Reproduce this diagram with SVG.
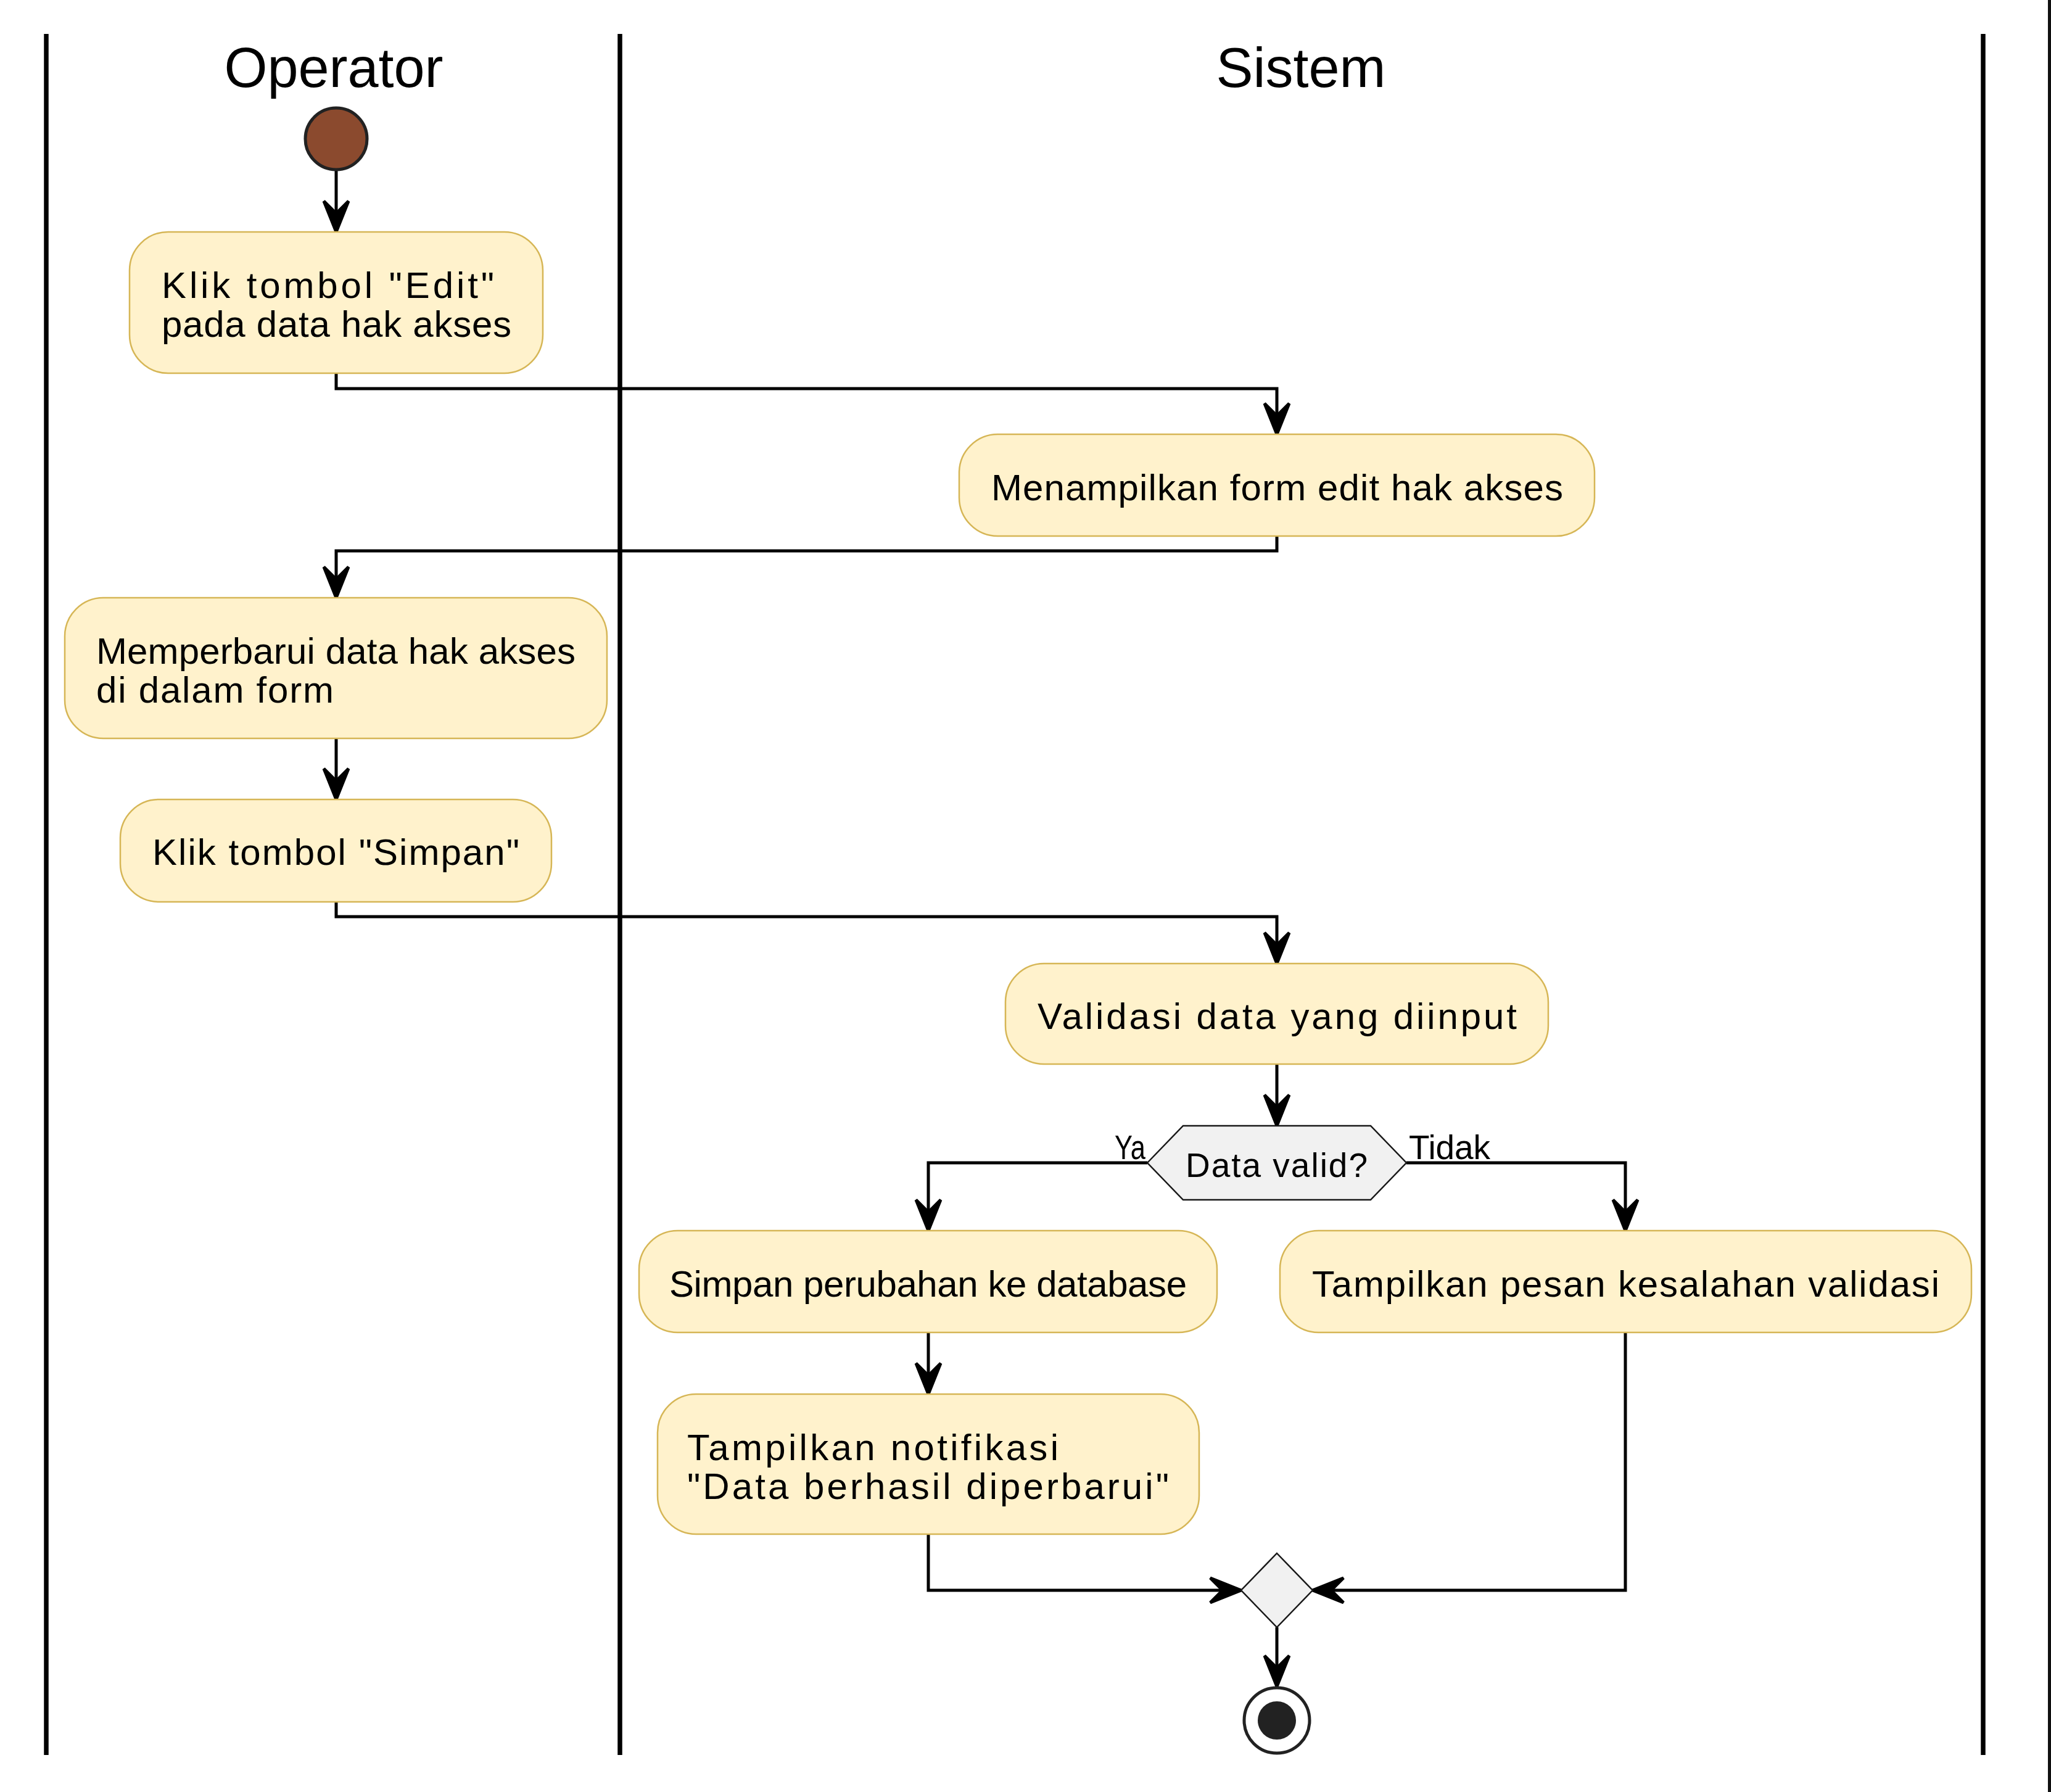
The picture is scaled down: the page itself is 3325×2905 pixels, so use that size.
<svg xmlns="http://www.w3.org/2000/svg" width="3325" height="2905" viewBox="0 0 3325 2905">
  <style>
    .lane { stroke: #000; stroke-width: 7.5; fill: none; }
    .title { font-family: "Liberation Sans", Arial, sans-serif; font-size: 90px; fill: #000; text-anchor: middle; }
    .act { fill: #FFF2CC; stroke: #D6B656; stroke-width: 2.5; }
    .txt { font-family: "Liberation Sans", Arial, sans-serif; font-size: 60px; fill: #000; }
    .small { font-family: "Liberation Sans", Arial, sans-serif; font-size: 55px; fill: #000; }
    .gate { fill: #F1F1F1; stroke: #181818; stroke-width: 2.5; }
    .edge { fill: none; stroke: #000; stroke-width: 5; }
  </style>
  <defs>
    <marker id="ah" markerUnits="userSpaceOnUse" viewBox="-60 -30 70 60" markerWidth="70" markerHeight="60" refX="0" refY="0" orient="auto" overflow="visible">
      <path d="M0,0 L-50,-20 L-30,0 L-50,20 Z" fill="#000" stroke="#000" stroke-width="5" stroke-linejoin="miter"/>
    </marker>
  </defs>

  <rect x="0" y="0" width="3325" height="2905" fill="#FFFFFF"/>
  <rect x="3320" y="0" width="5" height="2905" fill="#111111"/>

  <!-- swimlanes -->
  <g id="lanes">
    <line class="lane" x1="75" y1="55" x2="75" y2="2845"/>
    <line class="lane" x1="1005" y1="55" x2="1005" y2="2845"/>
    <line class="lane" x1="3215" y1="55" x2="3215" y2="2845"/>
    <text class="title" x="541" y="141">Operator</text>
    <text class="title" x="2109" y="141">Sistem</text>
  </g>

  <!-- flow connectors -->
  <g id="connectors">
    <path class="edge" d="M545,276 L545,376" marker-end="url(#ah)"/>
    <path class="edge" d="M545,605 L545,630 L2070,630 L2070,704" marker-end="url(#ah)"/>
    <path class="edge" d="M2070,869 L2070,893 L545,893 L545,969" marker-end="url(#ah)"/>
    <path class="edge" d="M545,1197 L545,1296" marker-end="url(#ah)"/>
    <path class="edge" d="M545,1462 L545,1486 L2070,1486 L2070,1562" marker-end="url(#ah)"/>
    <path class="edge" d="M2070,1725 L2070,1825" marker-end="url(#ah)"/>
    <path class="edge" d="M1860,1885 L1505,1885 L1505,1995" marker-end="url(#ah)"/>
    <path class="edge" d="M2280,1885 L2635,1885 L2635,1995" marker-end="url(#ah)"/>
    <path class="edge" d="M1505,2160 L1505,2260" marker-end="url(#ah)"/>
    <path class="edge" d="M1505,2487 L1505,2578 L2012,2578" marker-end="url(#ah)"/>
    <path class="edge" d="M2635,2160 L2635,2578 L2128,2578" marker-end="url(#ah)"/>
    <path class="edge" d="M2070,2638 L2070,2734" marker-end="url(#ah)"/>
    <text class="small" x="1807" y="1879" textLength="50" lengthAdjust="spacingAndGlyphs">Ya</text>
    <text class="small" x="2284" y="1879" textLength="132" lengthAdjust="spacing">Tidak</text>
  </g>

  <!-- start -->
  <g id="start">
    <circle cx="545" cy="225" r="50" fill="#8B4A2E" stroke="#222" stroke-width="5"/>
  </g>

  <g id="act-klik-edit">
    <rect class="act" x="210" y="376" width="670" height="229" rx="62.5" ry="62.5"/>
    <text class="txt" x="262" y="483" textLength="539" lengthAdjust="spacing">Klik tombol "Edit"</text>
    <text class="txt" x="262" y="546" textLength="567" lengthAdjust="spacing">pada data hak akses</text>
  </g>

  <g id="act-tampil-form">
    <rect class="act" x="1555" y="704" width="1030" height="165" rx="62.5" ry="62.5"/>
    <text class="txt" x="1607" y="811" textLength="927" lengthAdjust="spacing">Menampilkan form edit hak akses</text>
  </g>

  <g id="act-perbarui">
    <rect class="act" x="105" y="969" width="879" height="228" rx="62.5" ry="62.5"/>
    <text class="txt" x="156" y="1076" textLength="777" lengthAdjust="spacing">Memperbarui data hak akses</text>
    <text class="txt" x="156" y="1139" textLength="385" lengthAdjust="spacing">di dalam form</text>
  </g>

  <g id="act-klik-simpan">
    <rect class="act" x="195" y="1296" width="699" height="166" rx="62.5" ry="62.5"/>
    <text class="txt" x="247" y="1402" textLength="595" lengthAdjust="spacing">Klik tombol "Simpan"</text>
  </g>

  <g id="act-validasi">
    <rect class="act" x="1630" y="1562" width="880" height="163" rx="62.5" ry="62.5"/>
    <text class="txt" x="1682" y="1668" textLength="777" lengthAdjust="spacing">Validasi data yang diinput</text>
  </g>

  <g id="decision-valid">
    <polygon class="gate" points="1860,1885 1918,1825 2222,1825 2280,1885 2222,1945 1918,1945"/>
    <text class="small" x="1922" y="1908" textLength="295" lengthAdjust="spacing">Data valid?</text>
  </g>

  <g id="act-simpan-db">
    <rect class="act" x="1036" y="1995" width="937" height="165" rx="62.5" ry="62.5"/>
    <text class="txt" x="1085" y="2102" textLength="839" lengthAdjust="spacing">Simpan perubahan ke database</text>
  </g>

  <g id="act-pesan-salah">
    <rect class="act" x="2075" y="1995" width="1121" height="165" rx="62.5" ry="62.5"/>
    <text class="txt" x="2127" y="2102" textLength="1017" lengthAdjust="spacing">Tampilkan pesan kesalahan validasi</text>
  </g>

  <g id="act-notifikasi">
    <rect class="act" x="1066" y="2260" width="878" height="227" rx="62.5" ry="62.5"/>
    <text class="txt" x="1114" y="2367" textLength="602" lengthAdjust="spacing">Tampilkan notifikasi</text>
    <text class="txt" x="1114" y="2430" textLength="781" lengthAdjust="spacing">"Data berhasil diperbarui"</text>
  </g>

  <g id="merge">
    <polygon class="gate" points="2070,2518 2128,2578 2070,2638 2012,2578"/>
  </g>

  <g id="end">
    <circle cx="2070" cy="2789" r="53" fill="#FFFFFF" stroke="#222" stroke-width="5"/>
    <circle cx="2070" cy="2789" r="31" fill="#222"/>
  </g>
</svg>
